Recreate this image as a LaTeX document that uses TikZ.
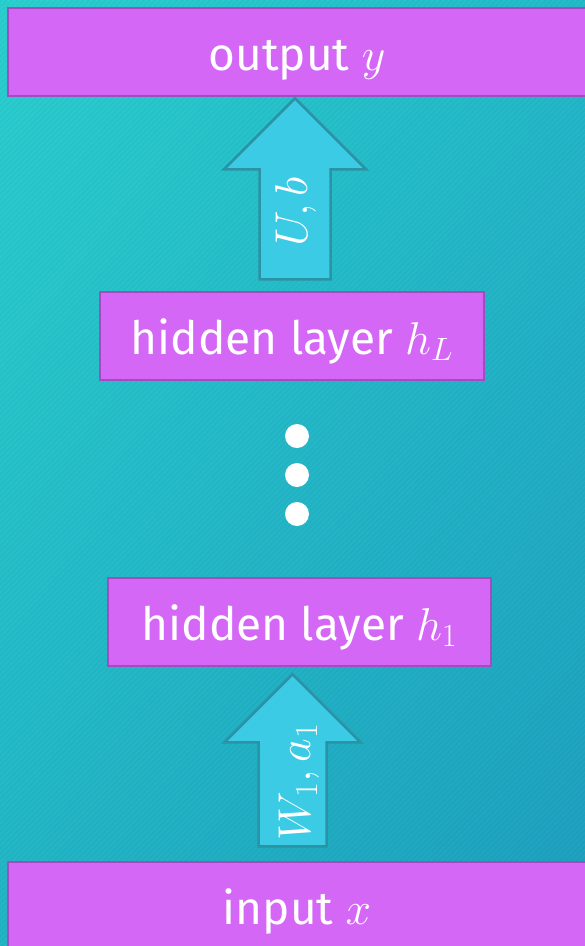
\RequirePackage{fix-cm}
\documentclass[tikz,border=0pt]{standalone}
\usepackage{fontspec}
\setmainfont{Fira Sans}
\usepackage{xcolor}
\usetikzlibrary{shadings}

\definecolor{boxfill}{HTML}{D467F6}
\definecolor{boxline}{HTML}{A24CC2}
\definecolor{arrfill}{HTML}{3BCBE4}
\definecolor{arrline}{HTML}{2B93A6}
\definecolor{bgTL}{HTML}{2CD3D3}
\definecolor{bgTR}{HTML}{25BDCD}
\definecolor{bgBL}{HTML}{23B8C9}
\definecolor{bgBR}{HTML}{1FA2C2}

\begin{document}
\begin{tikzpicture}[x=1pt, y=-1pt,
        layer/.style={draw=boxline, fill=boxfill, line width=2.5pt, text=white,
            minimum height=88pt, inner sep=0pt, text height=36pt, text depth=0pt,
            font=\fontsize{46}{54}\selectfont},
        blockarrow/.style={draw=arrline, fill=arrfill, line width=2.5pt, line join=miter},
        arrlabel/.style={text=white, rotate=90, inner sep=0pt, font=\fontsize{46}{54}\selectfont},
        dot/.style={circle, fill=white, minimum size=24pt, inner sep=0pt},
        stripe/.style={black, opacity=0.04, line width=2.5pt}]

        \useasboundingbox (0,0) rectangle (585,946);

        % Background with thin diagonal stripes
        \shade[upper left=bgTL, upper right=bgTR, lower left=bgBL, lower right=bgBR] (0,0) rectangle (585,946);
        \begin{scope}
            \clip (0,0) rectangle (585,946);
            \foreach \i in {-950,-944.5,...,590}
                \draw[stripe] (\i,946) -- ++(946,-946);
        \end{scope}

        % Layers
        \node[layer, minimum width=578pt] (out) at (297,52) {output $y$};
        \node[layer, minimum width=384pt] (hL) at (292,336) {hidden layer $h_L$};
        \node[layer, minimum width=383pt] (h1) at (299.5,622) {hidden layer $h_1$};
        \node[layer, minimum width=578pt] (in) at (297,906) {input $x$};

        % Vertical dots between the hidden layers
        \foreach \y [count=\k] in {436,475,514}
            \node[dot] (dot\k) at (297,\y) {};

        % Block arrows with their parameters
        \draw[blockarrow] (out.south) ++(-2,1) -- ++(71,71) -- ++(-35.5,0) -- ++(0,110)
            -- ++(-71,0) -- ++(0,-110) -- ++(-35.5,0) -- cycle;
        \node[arrlabel] (lblU) at (296,212) {$U,b$};

        \draw[blockarrow] (h1.south) ++(-7,7) -- ++(68,68) -- ++(-34,0) -- ++(0,104)
            -- ++(-68,0) -- ++(0,-104) -- ++(-34,0) -- cycle;
        \node[arrlabel] (lblW) at (299,782) {$W_1,a_1$};

    \end{tikzpicture}
\end{document}
